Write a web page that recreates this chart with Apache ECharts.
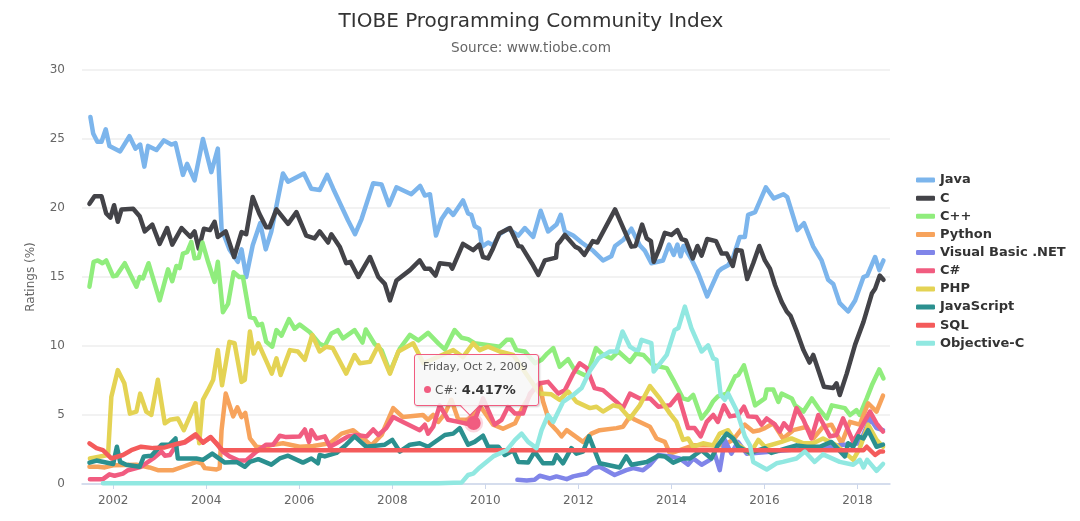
<!DOCTYPE html>
<html>
<head>
<meta charset="utf-8">
<title>TIOBE Programming Community Index</title>
<script src="https://cdn.jsdelivr.net/npm/echarts@6/dist/echarts.min.js"></script>
<style>
html, body { margin: 0; padding: 0; background: #fff; }
#chart { width: 1080px; height: 521px; }
</style>
</head>
<body>
<div id="chart"></div>
<script>
// every series is a list of [decimal year, rating %]
var javaPoints = [[2001.51,26.6],[2001.57,25.4],[2001.66,24.8],[2001.75,24.8],[2001.84,25.7],[2001.92,24.5],[2002.15,24.1],[2002.35,25.2],[2002.48,24.3],[2002.58,24.6],[2002.67,23.0],[2002.75,24.5],[2002.93,24.2],[2003.09,24.9],[2003.25,24.6],[2003.34,24.7],[2003.5,22.4],[2003.59,23.2],[2003.75,22.0],[2003.93,25.0],[2004.11,22.6],[2004.25,24.3],[2004.33,18.5],[2004.5,17.0],[2004.68,16.1],[2004.76,17.0],[2004.86,15.0],[2005.0,17.3],[2005.16,18.9],[2005.28,17.0],[2005.4,18.3],[2005.65,22.5],[2005.76,21.9],[2006.1,22.5],[2006.26,21.4],[2006.44,21.3],[2006.6,22.4],[2006.73,21.4],[2007.05,19.1],[2007.2,18.1],[2007.34,19.2],[2007.59,21.8],[2007.77,21.7],[2007.93,20.2],[2008.09,21.5],[2008.41,21.0],[2008.6,21.6],[2008.7,20.9],[2008.81,21.0],[2008.94,18.0],[2009.06,19.2],[2009.2,19.9],[2009.31,19.5],[2009.52,20.55],[2009.63,19.6],[2009.7,19.5],[2009.77,18.7],[2009.87,18.5],[2009.93,17.2],[2010.06,17.5],[2010.17,17.3],[2010.31,18.1],[2010.49,18.5],[2010.71,18.0],[2010.85,18.55],[2011.03,17.9],[2011.19,19.8],[2011.35,18.3],[2011.53,18.8],[2011.62,19.5],[2011.71,18.3],[2011.89,18.0],[2012.07,17.5],[2012.32,16.9],[2012.53,16.2],[2012.71,16.5],[2012.79,17.25],[2012.97,17.7],[2013.14,18.5],[2013.32,17.3],[2013.43,16.9],[2013.57,16.0],[2013.82,16.2],[2013.95,17.35],[2014.05,16.6],[2014.13,17.35],[2014.2,16.5],[2014.26,17.25],[2014.43,16.3],[2014.58,15.25],[2014.77,13.6],[2015.01,15.4],[2015.08,15.6],[2015.22,15.85],[2015.33,16.45],[2015.47,17.9],[2015.58,17.9],[2015.65,19.5],[2015.8,19.7],[2016.03,21.5],[2016.2,20.7],[2016.41,21.0],[2016.49,20.8],[2016.71,18.4],[2016.85,18.9],[2017.05,17.2],[2017.23,16.2],[2017.37,14.8],[2017.48,14.5],[2017.62,13.1],[2017.8,12.5],[2017.95,13.3],[2018.13,15.0],[2018.21,15.1],[2018.38,16.45],[2018.47,15.5],[2018.56,16.2]];

var cPoints = [[2001.49,20.3],[2001.6,20.85],[2001.75,20.85],[2001.85,19.6],[2001.94,19.3],[2002.02,20.2],[2002.1,19.0],[2002.18,19.9],[2002.43,19.95],[2002.57,19.4],[2002.68,18.3],[2002.84,18.8],[2003.0,17.4],[2003.16,18.55],[2003.27,17.35],[2003.47,18.55],[2003.66,17.9],[2003.75,18.3],[2003.84,17.05],[2003.95,18.5],[2004.08,18.4],[2004.18,19.0],[2004.25,17.9],[2004.42,18.3],[2004.6,16.45],[2004.76,18.25],[2004.86,18.1],[2005.0,20.8],[2005.14,19.6],[2005.29,18.6],[2005.36,18.6],[2005.51,19.9],[2005.76,18.85],[2005.94,19.7],[2006.15,18.0],[2006.33,17.8],[2006.44,18.3],[2006.62,17.5],[2006.69,18.1],[2006.87,17.2],[2007.01,16.0],[2007.1,16.1],[2007.27,15.0],[2007.52,16.45],[2007.7,15.0],[2007.84,14.5],[2007.95,13.3],[2008.09,14.75],[2008.38,15.5],[2008.59,16.2],[2008.7,15.6],[2008.81,15.6],[2008.93,15.1],[2009.02,16.0],[2009.24,15.9],[2009.29,15.6],[2009.52,17.4],[2009.74,16.95],[2009.87,17.35],[2009.95,16.45],[2010.06,16.35],[2010.15,16.95],[2010.3,18.15],[2010.53,18.55],[2010.71,17.25],[2010.78,17.2],[2011.0,16.0],[2011.14,15.15],[2011.28,16.2],[2011.52,16.4],[2011.55,17.35],[2011.6,17.55],[2011.71,18.05],[2011.93,17.2],[2012.02,17.05],[2012.13,16.6],[2012.31,17.6],[2012.41,17.5],[2012.79,19.9],[2013.14,17.2],[2013.23,17.25],[2013.37,18.8],[2013.47,17.8],[2013.56,17.6],[2013.62,16.1],[2013.74,17.05],[2013.86,18.2],[2014.0,18.05],[2014.13,18.4],[2014.22,17.75],[2014.31,17.65],[2014.46,16.35],[2014.56,17.25],[2014.65,16.55],[2014.77,17.75],[2014.96,17.6],[2015.08,16.7],[2015.19,16.7],[2015.32,15.8],[2015.4,16.95],[2015.51,16.9],[2015.63,14.85],[2015.76,16.0],[2015.89,17.25],[2016.01,16.2],[2016.12,15.6],[2016.23,14.4],[2016.37,13.2],[2016.48,12.5],[2016.56,12.2],[2016.69,11.1],[2016.84,9.7],[2016.97,8.8],[2017.05,9.35],[2017.28,7.05],[2017.48,6.95],[2017.55,7.3],[2017.62,6.45],[2017.77,8.0],[2017.95,10.1],[2018.13,11.75],[2018.31,13.8],[2018.38,14.15],[2018.48,15.1],[2018.56,14.8]];

var cppPoints = [[2001.49,14.3],[2001.58,16.1],[2001.67,16.2],[2001.77,16.0],[2001.85,16.2],[2002.0,15.05],[2002.07,15.1],[2002.25,16.0],[2002.5,14.3],[2002.57,15.0],[2002.64,14.9],[2002.76,16.0],[2003.0,13.3],[2003.18,15.55],[2003.27,14.7],[2003.36,15.8],[2003.43,15.65],[2003.5,16.7],[2003.59,16.8],[2003.68,17.55],[2003.75,16.35],[2003.84,16.4],[2003.92,17.5],[2004.04,16.1],[2004.18,14.65],[2004.25,16.1],[2004.36,12.45],[2004.47,13.05],[2004.59,15.35],[2004.71,15.0],[2004.79,15.0],[2004.94,12.1],[2005.04,12.0],[2005.11,11.5],[2005.2,11.6],[2005.29,10.3],[2005.42,9.95],[2005.51,11.15],[2005.62,10.75],[2005.78,11.95],[2005.9,11.25],[2006.01,11.55],[2006.23,11.0],[2006.44,10.15],[2006.55,10.0],[2006.69,10.9],[2006.83,11.15],[2006.94,10.55],[2007.19,11.15],[2007.36,10.25],[2007.43,11.2],[2007.62,10.15],[2007.77,9.7],[2007.95,8.1],[2008.16,9.8],[2008.38,10.8],[2008.56,10.4],[2008.77,10.95],[2009.0,10.15],[2009.13,9.75],[2009.34,11.15],[2009.49,10.6],[2009.63,10.5],[2009.77,10.2],[2010.31,9.95],[2010.46,10.45],[2010.56,10.45],[2010.67,9.7],[2010.85,9.6],[2011.07,8.75],[2011.21,9.0],[2011.33,9.45],[2011.46,9.85],[2011.6,8.5],[2011.78,9.05],[2011.92,8.25],[2012.18,7.8],[2012.38,9.85],[2012.53,9.35],[2012.71,9.1],[2012.86,9.6],[2013.11,8.85],[2013.24,9.45],[2013.4,9.35],[2013.61,8.6],[2013.9,8.4],[2014.04,7.55],[2014.25,6.2],[2014.36,6.1],[2014.47,6.45],[2014.65,4.75],[2014.79,5.35],[2014.9,6.0],[2015.0,6.35],[2015.19,6.55],[2015.37,7.8],[2015.44,7.9],[2015.56,8.6],[2015.8,5.7],[2016.01,6.2],[2016.05,6.85],[2016.19,6.85],[2016.3,5.95],[2016.37,6.55],[2016.59,6.2],[2016.66,5.7],[2016.84,5.25],[2017.02,6.2],[2017.16,5.5],[2017.34,4.75],[2017.45,5.7],[2017.73,5.5],[2017.84,5.0],[2017.98,5.35],[2018.05,5.0],[2018.2,6.2],[2018.31,7.15],[2018.47,8.3],[2018.56,7.65]];

var pythonPoints = [[2001.49,1.25],[2001.67,1.25],[2001.82,1.2],[2002.0,1.35],[2002.5,1.4],[2002.78,1.2],[2002.96,1.0],[2003.29,1.0],[2003.5,1.25],[2003.79,1.6],[2003.9,1.5],[2003.97,1.15],[2004.22,1.05],[2004.29,1.15],[2004.33,3.9],[2004.42,6.55],[2004.58,4.9],[2004.67,5.55],[2004.76,4.85],[2004.84,5.15],[2004.94,3.3],[2005.08,2.7],[2005.22,2.65],[2005.44,2.85],[2005.65,2.95],[2006.01,2.7],[2006.3,2.75],[2006.66,2.95],[2006.91,3.65],[2007.16,3.9],[2007.34,3.4],[2007.55,2.8],[2007.77,3.55],[2008.02,5.5],[2008.23,4.85],[2008.66,5.0],[2008.77,4.65],[2008.88,5.0],[2008.99,4.5],[2009.13,5.1],[2009.27,6.1],[2009.42,4.65],[2009.63,4.65],[2009.9,5.6],[2010.17,4.3],[2010.38,4.0],[2010.64,4.4],[2010.81,5.6],[2011.03,6.8],[2011.17,7.3],[2011.24,6.0],[2011.39,4.4],[2011.53,3.9],[2011.64,3.45],[2011.75,3.9],[2012.1,3.05],[2012.28,3.65],[2012.46,3.9],[2012.82,4.05],[2012.96,4.15],[2013.11,4.9],[2013.22,4.65],[2013.54,4.15],[2013.68,3.3],[2013.86,3.05],[2013.97,2.2],[2014.47,2.8],[2014.83,2.8],[2015.11,2.8],[2015.33,3.2],[2015.58,4.3],[2015.76,3.8],[2015.9,3.9],[2016.01,4.05],[2016.19,4.4],[2016.4,3.3],[2016.62,3.9],[2016.91,4.15],[2017.05,3.3],[2017.26,4.15],[2017.44,4.3],[2017.66,2.95],[2017.84,4.5],[2018.05,4.3],[2018.23,5.85],[2018.41,5.25],[2018.55,6.4]];

var vbPoints = [[2010.69,0.3],[2010.89,0.25],[2011.06,0.3],[2011.17,0.6],[2011.39,0.4],[2011.53,0.55],[2011.75,0.35],[2011.89,0.55],[2012.03,0.65],[2012.18,0.75],[2012.32,1.15],[2012.46,1.25],[2012.78,0.65],[2013.03,1.0],[2013.18,1.15],[2013.39,1.0],[2013.54,1.4],[2013.72,2.1],[2013.97,2.0],[2014.18,1.85],[2014.36,1.4],[2014.47,1.85],[2014.65,1.4],[2014.83,1.75],[2014.93,2.2],[2015.04,1.0],[2015.15,3.2],[2015.29,2.2],[2015.43,3.05],[2015.62,2.2],[2016.0,2.3],[2017.0,2.6],[2018.05,2.95],[2018.2,4.15],[2018.27,4.75],[2018.41,4.05],[2018.55,3.9]];

var tipYear = 2009.75, tipRating = 4.417;
var csharpPoints = [[2001.5,0.35],[2001.78,0.35],[2001.92,0.7],[2002.03,0.6],[2002.21,0.75],[2002.32,1.0],[2002.6,1.25],[2002.86,1.85],[2003.04,2.35],[2003.11,2.05],[2003.22,2.1],[2003.36,2.85],[2003.54,3.0],[2003.77,3.5],[2003.93,3.0],[2004.09,3.4],[2004.25,2.85],[2004.36,2.35],[2004.5,2.0],[2004.7,1.7],[2004.86,1.7],[2005.08,2.35],[2005.29,2.85],[2005.44,2.85],[2005.58,3.5],[2005.72,3.4],[2006.01,3.45],[2006.12,3.95],[2006.21,3.05],[2006.26,3.9],[2006.37,3.3],[2006.55,3.45],[2006.66,2.7],[2006.8,2.95],[2007.05,3.45],[2007.23,3.55],[2007.45,3.45],[2007.59,3.95],[2007.7,3.55],[2007.87,4.05],[2008.02,4.85],[2008.23,4.5],[2008.59,3.9],[2008.7,4.3],[2008.77,3.65],[2008.88,4.15],[2009.02,5.7],[2009.2,4.65],[2009.42,4.5],[2009.63,4.35],[tipYear,tipRating],[2009.95,6.2],[2010.2,4.3],[2010.35,4.65],[2010.49,5.6],[2010.64,5.1],[2010.81,5.1],[2010.96,6.55],[2011.17,7.3],[2011.35,7.4],[2011.57,6.55],[2011.71,6.8],[2011.89,8.0],[2012.03,8.75],[2012.18,8.4],[2012.35,6.95],[2012.53,6.8],[2012.82,5.95],[2012.96,5.5],[2013.11,6.55],[2013.32,6.2],[2013.54,6.2],[2013.72,5.6],[2013.97,5.7],[2014.15,6.45],[2014.36,4.05],[2014.5,4.05],[2014.63,3.45],[2014.76,4.5],[2014.9,5.0],[2015.0,4.5],[2015.13,5.7],[2015.26,4.9],[2015.44,5.0],[2015.56,5.6],[2015.65,4.9],[2015.83,4.85],[2015.94,4.3],[2016.05,4.75],[2016.23,4.3],[2016.33,3.8],[2016.42,4.4],[2016.55,3.9],[2016.69,5.5],[2016.84,4.65],[2017.01,3.3],[2017.16,5.0],[2017.3,4.15],[2017.41,3.45],[2017.55,3.55],[2017.69,4.75],[2017.91,3.05],[2018.05,3.9],[2018.27,5.25],[2018.41,4.4],[2018.55,3.8]];

var phpPoints = [[2001.5,1.85],[2001.89,2.1],[2001.96,6.3],[2002.1,8.25],[2002.24,7.3],[2002.36,5.1],[2002.5,5.25],[2002.58,6.55],[2002.71,5.25],[2002.82,5.0],[2002.96,7.55],[2003.11,4.4],[2003.22,4.65],[2003.39,4.75],[2003.52,3.9],[2003.77,5.85],[2003.85,2.95],[2003.93,6.1],[2004.04,6.8],[2004.15,7.55],[2004.25,9.7],[2004.34,7.15],[2004.5,10.3],[2004.61,10.2],[2004.76,7.4],[2004.83,7.55],[2004.94,11.05],[2005.02,9.45],[2005.12,10.2],[2005.3,8.85],[2005.41,8.0],[2005.51,9.1],[2005.6,7.9],[2005.8,9.7],[2005.97,9.6],[2006.12,9.0],[2006.28,10.8],[2006.44,9.6],[2006.58,9.95],[2006.72,9.85],[2007.01,8.0],[2007.19,9.35],[2007.3,8.75],[2007.52,8.85],[2007.7,10.05],[2007.95,8.0],[2008.13,9.6],[2008.45,10.2],[2008.67,8.75],[2009.31,9.7],[2009.52,9.2],[2009.74,10.2],[2009.88,9.7],[2010.06,9.95],[2010.31,9.6],[2010.6,9.35],[2011.17,6.55],[2011.42,6.5],[2011.6,6.1],[2011.78,6.7],[2011.96,5.95],[2012.25,5.5],[2012.39,5.6],[2012.53,5.25],[2012.75,5.7],[2012.89,5.6],[2013.11,4.75],[2013.32,5.7],[2013.54,7.1],[2013.75,6.2],[2013.97,5.1],[2014.11,4.5],[2014.25,3.2],[2014.36,3.3],[2014.47,2.7],[2014.68,2.95],[2014.9,2.8],[2015.04,3.65],[2015.22,3.9],[2015.4,2.95],[2015.69,2.2],[2015.87,3.2],[2016.01,2.7],[2016.37,3.05],[2016.58,3.3],[2016.84,2.95],[2017.05,2.95],[2017.26,3.3],[2017.55,2.8],[2017.91,1.75],[2018.05,2.6],[2018.23,4.3],[2018.41,3.2],[2018.55,2.7]];

var jsPoints = [[2001.49,1.55],[2001.64,1.7],[2002.0,1.45],[2002.08,2.7],[2002.15,1.6],[2002.28,1.4],[2002.57,1.25],[2002.66,2.0],[2002.82,2.05],[2003.04,2.85],[2003.21,2.85],[2003.34,3.3],[2003.39,1.85],[2003.57,1.85],[2003.79,1.85],[2003.93,1.75],[2004.13,2.2],[2004.4,1.55],[2004.65,1.6],[2004.83,1.25],[2004.94,1.6],[2005.12,1.8],[2005.4,1.4],[2005.58,1.85],[2005.76,2.05],[2006.08,1.55],[2006.26,1.85],[2006.4,1.5],[2006.44,2.1],[2006.55,2.0],[2006.8,2.25],[2007.01,2.85],[2007.19,3.45],[2007.44,2.7],[2007.84,2.85],[2008.0,3.2],[2008.16,2.35],[2008.38,2.85],[2008.59,2.95],[2008.77,2.7],[2009.13,3.55],[2009.31,3.65],[2009.45,4.05],[2009.63,2.85],[2009.77,3.05],[2009.95,3.5],[2010.06,2.7],[2010.28,2.7],[2010.42,2.1],[2010.6,2.45],[2010.71,1.6],[2010.92,1.55],[2011.06,2.35],[2011.24,1.5],[2011.46,1.5],[2011.53,2.1],[2011.67,1.5],[2011.85,2.6],[2011.96,2.2],[2012.1,2.35],[2012.23,3.45],[2012.46,1.5],[2012.89,1.2],[2013.03,2.0],[2013.14,1.4],[2013.47,1.6],[2013.72,2.05],[2013.86,2.0],[2014.04,1.55],[2014.25,1.85],[2014.4,1.85],[2014.65,2.45],[2014.86,1.85],[2015.0,2.8],[2015.19,3.65],[2015.33,3.3],[2015.44,2.7],[2015.69,2.25],[2016.01,2.6],[2016.15,2.25],[2016.48,2.6],[2016.69,2.8],[2016.91,2.7],[2017.19,2.7],[2017.44,3.05],[2017.73,2.0],[2017.8,2.95],[2017.91,2.7],[2018.02,3.45],[2018.13,3.3],[2018.23,3.9],[2018.41,2.7],[2018.55,2.85]];

var sqlPoints = [[2001.49,2.95],[2001.64,2.6],[2001.78,2.45],[2001.96,1.85],[2002.21,2.1],[2002.39,2.45],[2002.6,2.7],[2002.86,2.6],[2003.11,2.65],[2003.36,2.9],[2003.54,3.05],[2003.77,3.6],[2003.93,3.0],[2004.1,3.4],[2004.3,2.6],[2004.36,2.45],[2018.13,2.45],[2018.2,2.7],[2018.38,2.1],[2018.48,2.35],[2018.55,2.35]];

var objcPoints = [[2001.78,0.05],[2009.0,0.05],[2009.49,0.1],[2009.63,0.65],[2009.74,0.75],[2009.88,1.2],[2010.17,2.0],[2010.46,2.45],[2010.64,3.2],[2010.78,3.65],[2010.92,3.05],[2011.1,2.6],[2011.21,3.9],[2011.35,5.0],[2011.46,4.5],[2011.67,5.95],[2011.89,6.45],[2012.07,6.95],[2012.25,8.2],[2012.43,9.1],[2012.68,9.6],[2012.82,9.6],[2012.95,11.05],[2013.11,9.95],[2013.2,9.75],[2013.29,9.7],[2013.36,10.45],[2013.57,10.2],[2013.62,8.15],[2013.9,9.35],[2014.07,11.15],[2014.15,11.3],[2014.29,12.85],[2014.43,11.3],[2014.65,9.6],[2014.79,10.05],[2014.9,9.1],[2014.97,9.0],[2015.06,6.45],[2015.15,6.1],[2015.22,6.55],[2015.4,5.35],[2015.58,3.45],[2015.69,2.8],[2015.76,1.6],[2016.05,1.05],[2016.26,1.5],[2016.4,1.6],[2016.69,1.85],[2016.87,2.35],[2017.08,1.6],[2017.26,2.15],[2017.62,1.6],[2017.91,1.4],[2018.05,1.75],[2018.13,1.2],[2018.21,1.75],[2018.41,0.95],[2018.55,1.45]];

var seriesNames = ['Java', 'C', 'C++', 'Python', 'Visual Basic .NET', 'C#', 'PHP', 'JavaScript', 'SQL', 'Objective-C'];
var seriesPoints = [javaPoints, cPoints, cppPoints, pythonPoints, vbPoints, csharpPoints, phpPoints, jsPoints, sqlPoints, objcPoints];
var colors = ['#7cb5ec', '#434348', '#90ed7d', '#f7a35c', '#8085e9', '#f15c80', '#e4d354', '#2b908f', '#f45b5b', '#91e8e1'];
var tickYears = [2002, 2004, 2006, 2008, 2010, 2012, 2014, 2016, 2018];
var tipDate = 'Friday, Oct 2, 2009';
var font = '"DejaVu Sans", Verdana, sans-serif';

var series = [];
for (var i = 0; i < seriesNames.length; i++) {
    series.push({
        name: seriesNames[i],
        type: 'line',
        showSymbol: false,
        symbol: 'none',
        data: seriesPoints[i],
        lineStyle: {width: 4.5, color: colors[i], cap: 'round', join: 'round'},
        itemStyle: {color: colors[i]},
        emphasis: {disabled: true}
    });
}
// hovered point, its own series because the tooltip needs a drawn symbol to attach to
series.push({
    name: 'C#',
    type: 'scatter',
    symbol: 'circle',
    symbolSize: 14,
    z: 5,
    data: [[tipYear, tipRating]],
    itemStyle: {color: '#f15c80', borderColor: 'rgba(241,92,128,0.25)', borderWidth: 5, opacity: 1},
    emphasis: {disabled: true}
});

var myChart = echarts.init(document.getElementById('chart'));
myChart.setOption({
    animation: false,
    color: colors,
    textStyle: {fontFamily: font},
    title: [
        {text: 'TIOBE Programming Community Index', left: 526, top: 7, textAlign: 'center',
            textStyle: {fontFamily: font, fontSize: 20, fontWeight: 'normal', color: '#333'}},
        {text: 'Source: www.tiobe.com', left: 526, top: 36, textAlign: 'center',
            textStyle: {fontFamily: font, fontSize: 13.6, fontWeight: 'normal', color: '#666'}}
    ],
    grid: {left: 82, right: 190, top: 70, bottom: 37},
    legend: {
        orient: 'vertical',
        left: 911,
        top: 168.5,
        itemWidth: 19,
        itemHeight: 5,
        itemGap: 5.15,
        icon: 'roundRect',
        data: seriesNames,
        textStyle: {fontFamily: font, fontSize: 13, fontWeight: 'bold', color: '#333'}
    },
    tooltip: {
        trigger: 'item',
        alwaysShowContent: true,
        position: [414, 354],
        padding: 0,
        borderWidth: 0,
        backgroundColor: 'transparent',
        extraCssText: 'box-shadow:none;',
        formatter: function () {
            var family = font.replace(/"/g, "'");
            return '<div style="position:relative;box-sizing:border-box;width:125px;height:52px;padding:4px 8px;' +
                'background:rgba(247,247,247,0.85);border:1px solid #f15c80;border-radius:3px;' +
                'box-shadow:1px 1px 2px rgba(0,0,0,0.2);font-family:' + family + ';color:#333;">' +
                '<div style="font-size:11px;line-height:16px;color:#555;white-space:nowrap;">' + tipDate + '</div>' +
                '<div style="font-size:13px;line-height:29px;white-space:nowrap;">' +
                '<span style="display:inline-block;width:7px;height:7px;border-radius:50%;background:#f15c80;margin:0 4px 1px 1px;"></span>' +
                '<span style="font-size:12px;color:#555;">C#:</span> <b>' + tipRating + '%</b></div>' +
                '<div style="position:absolute;left:48px;bottom:-8px;width:14px;height:14px;background:linear-gradient(135deg,transparent 50%,rgba(247,247,247,0.85) 50%);' +
                'border-right:1px solid #f15c80;border-bottom:1px solid #f15c80;transform:rotate(45deg);box-sizing:border-box;"></div>' +
                '</div>';
        }
    },
    xAxis: {
        type: 'value',
        min: 2001.33,
        max: 2018.7,
        axisLine: {lineStyle: {color: '#ccd6eb', width: 1.5}},
        axisTick: {show: true, length: 5, lineStyle: {color: '#ccd6eb'}, customValues: tickYears},
        axisLabel: {
            color: '#666', fontSize: 12, fontFamily: font, margin: 11,
            customValues: tickYears,
            formatter: function (v) { return String(v); }
        },
        splitLine: {show: false}
    },
    yAxis: {
        type: 'value',
        min: 0,
        max: 30,
        interval: 5,
        name: 'Ratings (%)',
        nameLocation: 'middle',
        nameGap: 45,
        nameTextStyle: {color: '#666', fontSize: 12, fontFamily: font},
        axisLine: {show: false},
        axisTick: {show: false},
        axisLabel: {color: '#666', fontSize: 12, fontFamily: font, margin: 17},
        splitLine: {lineStyle: {color: '#eeeeee', width: 1.5}}
    },
    series: series
});
myChart.dispatchAction({type: 'showTip', seriesIndex: seriesNames.length, dataIndex: 0});
</script>
</body>
</html>
